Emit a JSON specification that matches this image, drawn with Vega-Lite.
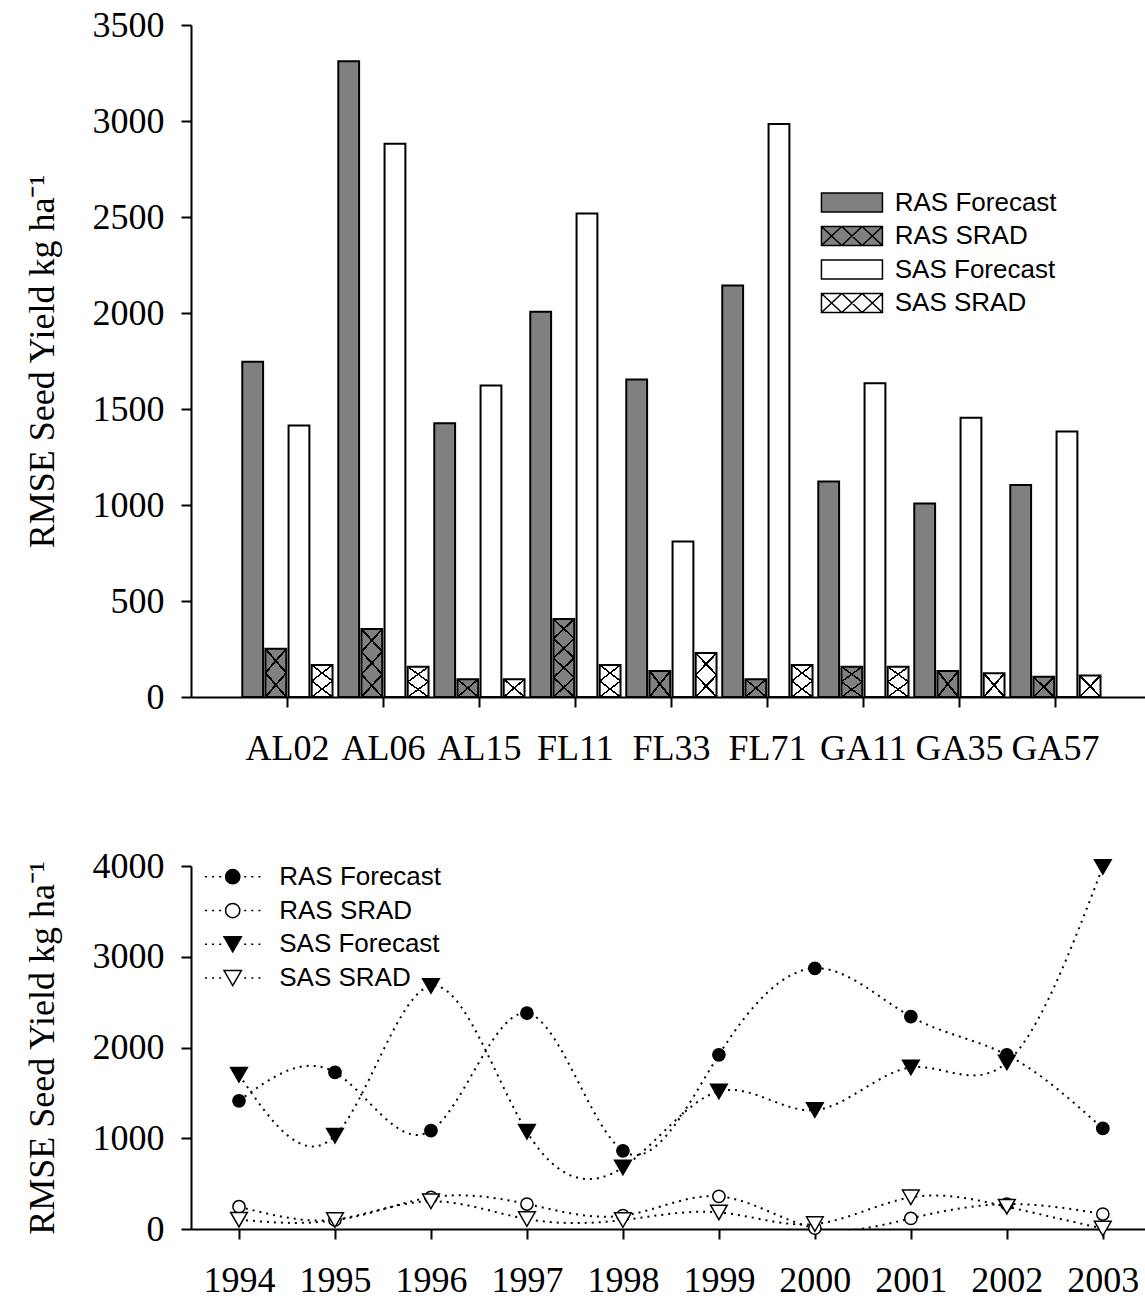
{
  "$schema": "https://vega.github.io/schema/vega-lite/v6.json",
  "padding": {"left": 24, "top": 7, "right": 0, "bottom": 0},
  "bounds": "flush",
  "spacing": 169,
  "resolve": {"scale": {"fill": "independent"}, "legend": {"fill": "independent"}},
  "config": {
    "view": {"stroke": null},
    "axis": {
      "domainColor": "black", "domainWidth": 2, "tickColor": "black", "tickWidth": 2, "tickSize": 10,
      "labelFont": "Liberation Serif", "labelFontSize": 36, "labelColor": "black",
      "titleFont": "Liberation Serif", "titleFontSize": 36, "titleFontWeight": "normal", "titleColor": "black",
      "grid": false, "labelPadding": 17, "titlePadding": 31, "labelOverlap": false, "labelFlush": false, "labelBound": false
    },
    "legend": {"labelFont": "Liberation Sans", "labelFontSize": 26, "labelColor": "black", "labelLimit": 400, "padding": 0, "symbolStrokeColor": "black", "symbolStrokeWidth": 1.5}
  },
  "vconcat": [
    {
      "width": 955,
      "height": 672,
      "data": {"values": [
        {"site": "AL02", "series": "RAS Forecast", "v": 1746}, {"site": "AL02", "series": "RAS SRAD", "v": 251}, {"site": "AL02", "series": "SAS Forecast", "v": 1414}, {"site": "AL02", "series": "SAS SRAD", "v": 167},
        {"site": "AL06", "series": "RAS Forecast", "v": 3311}, {"site": "AL06", "series": "RAS SRAD", "v": 354}, {"site": "AL06", "series": "SAS Forecast", "v": 2881}, {"site": "AL06", "series": "SAS SRAD", "v": 158},
        {"site": "AL15", "series": "RAS Forecast", "v": 1426}, {"site": "AL15", "series": "RAS SRAD", "v": 93}, {"site": "AL15", "series": "SAS Forecast", "v": 1622}, {"site": "AL15", "series": "SAS SRAD", "v": 93},
        {"site": "FL11", "series": "RAS Forecast", "v": 2007}, {"site": "FL11", "series": "RAS SRAD", "v": 406}, {"site": "FL11", "series": "SAS Forecast", "v": 2518}, {"site": "FL11", "series": "SAS SRAD", "v": 167},
        {"site": "FL33", "series": "RAS Forecast", "v": 1653}, {"site": "FL33", "series": "RAS SRAD", "v": 136}, {"site": "FL33", "series": "SAS Forecast", "v": 810}, {"site": "FL33", "series": "SAS SRAD", "v": 229},
        {"site": "FL71", "series": "RAS Forecast", "v": 2143}, {"site": "FL71", "series": "RAS SRAD", "v": 93}, {"site": "FL71", "series": "SAS Forecast", "v": 2984}, {"site": "FL71", "series": "SAS SRAD", "v": 167},
        {"site": "GA11", "series": "RAS Forecast", "v": 1123}, {"site": "GA11", "series": "RAS SRAD", "v": 158}, {"site": "GA11", "series": "SAS Forecast", "v": 1634}, {"site": "GA11", "series": "SAS SRAD", "v": 158},
        {"site": "GA35", "series": "RAS Forecast", "v": 1008}, {"site": "GA35", "series": "RAS SRAD", "v": 136}, {"site": "GA35", "series": "SAS Forecast", "v": 1455}, {"site": "GA35", "series": "SAS SRAD", "v": 124},
        {"site": "GA57", "series": "RAS Forecast", "v": 1104}, {"site": "GA57", "series": "RAS SRAD", "v": 105}, {"site": "GA57", "series": "SAS Forecast", "v": 1383}, {"site": "GA57", "series": "SAS SRAD", "v": 112}
      ]},
      "encoding": {
        "x": {"field": "site", "type": "nominal", "sort": ["AL02", "AL06", "AL15", "FL11", "FL33", "FL71", "GA11", "GA35", "GA57"],
              "scale": {"paddingInner": 0.06, "paddingOuter": 0.504, "align": 0.53},
              "axis": {"title": null, "labelAngle": 0, "labelPadding": 24}},
        "xOffset": {"field": "series", "type": "nominal", "scale": {"domain": ["RAS Forecast", "RAS SRAD", "SAS Forecast", "SAS SRAD"], "paddingInner": 0.1}},
        "y": {"field": "v", "type": "quantitative", "scale": {"domain": [0, 3500], "nice": false},
              "axis": {"title": "RMSE Seed Yield kg ha⁻¹", "format": "d", "values": [0, 500, 1000, 1500, 2000, 2500, 3000, 3500]}}
      },
      "layer": [
        {
          "mark": {"type": "bar", "stroke": "black", "strokeWidth": 2},
          "encoding": {
            "fill": {"field": "series", "type": "nominal",
              "scale": {"domain": ["RAS Forecast", "RAS SRAD", "SAS Forecast", "SAS SRAD"], "range": ["#808080", "#808080", "#ffffff", "#ffffff"]},
              "legend": {"title": null, "orient": "none", "legendX": 630.7, "legendY": 164.5, "symbolSize": 361, "symbolOffset": 17.25, "labelOffset": 29.8, "rowPadding": 7.5,
                "encode": {"symbols": {"update": {"shape": {"signal": "indexof(datum.value,'SRAD')>=0 ? 'M-3.21,-1H3.21V1H-3.21Z M-3.21,-1L-1.07,1M-1.07,-1L-3.21,1M-1.07,-1L1.07,1M1.07,-1L-1.07,1M1.07,-1L3.21,1M3.21,-1L1.07,1' : 'M-3.21,-1H3.21V1H-3.21Z'"}}}}}}
          }
        },
        {
          "transform": [{"filter": "indexof(datum.series,'SRAD')>=0"}],
          "mark": {"type": "bar", "strokeWidth": 0},
          "encoding": {
            "fill": {
              "condition": [
                {"test": "datum.v < 156", "value": {"gradient": "linear", "x1": 0, "y1": 0, "x2": 1, "y2": 1, "stops": [{"offset": 0, "color": "rgba(0,0,0,0)"}, {"offset": 0.47, "color": "rgba(0,0,0,0)"}, {"offset": 0.47, "color": "black"}, {"offset": 0.53, "color": "black"}, {"offset": 0.53, "color": "rgba(0,0,0,0)"}, {"offset": 1, "color": "rgba(0,0,0,0)"}]}},
                {"test": "datum.v < 260", "value": {"gradient": "linear", "x1": 0, "y1": 0, "x2": 0.6, "y2": 1.2, "stops": [{"offset": 0, "color": "rgba(0,0,0,0)"}, {"offset": 0.3133, "color": "rgba(0,0,0,0)"}, {"offset": 0.3133, "color": "black"}, {"offset": 0.3533, "color": "black"}, {"offset": 0.3533, "color": "rgba(0,0,0,0)"}, {"offset": 0.6467, "color": "rgba(0,0,0,0)"}, {"offset": 0.6467, "color": "black"}, {"offset": 0.6867, "color": "black"}, {"offset": 0.6867, "color": "rgba(0,0,0,0)"}, {"offset": 1, "color": "rgba(0,0,0,0)"}]}},
                {"test": "datum.v < 365", "value": {"gradient": "linear", "x1": 0, "y1": 0, "x2": 0.4, "y2": 1.2, "stops": [{"offset": 0, "color": "rgba(0,0,0,0)"}, {"offset": 0.235, "color": "rgba(0,0,0,0)"}, {"offset": 0.235, "color": "black"}, {"offset": 0.265, "color": "black"}, {"offset": 0.265, "color": "rgba(0,0,0,0)"}, {"offset": 0.485, "color": "rgba(0,0,0,0)"}, {"offset": 0.485, "color": "black"}, {"offset": 0.515, "color": "black"}, {"offset": 0.515, "color": "rgba(0,0,0,0)"}, {"offset": 0.735, "color": "rgba(0,0,0,0)"}, {"offset": 0.735, "color": "black"}, {"offset": 0.765, "color": "black"}, {"offset": 0.765, "color": "rgba(0,0,0,0)"}, {"offset": 1, "color": "rgba(0,0,0,0)"}]}}
              ],
              "value": {"gradient": "linear", "x1": 0, "y1": 0, "x2": 0.2941, "y2": 1.1765, "stops": [{"offset": 0, "color": "rgba(0,0,0,0)"}, {"offset": 0.188, "color": "rgba(0,0,0,0)"}, {"offset": 0.188, "color": "black"}, {"offset": 0.212, "color": "black"}, {"offset": 0.212, "color": "rgba(0,0,0,0)"}, {"offset": 0.388, "color": "rgba(0,0,0,0)"}, {"offset": 0.388, "color": "black"}, {"offset": 0.412, "color": "black"}, {"offset": 0.412, "color": "rgba(0,0,0,0)"}, {"offset": 0.588, "color": "rgba(0,0,0,0)"}, {"offset": 0.588, "color": "black"}, {"offset": 0.612, "color": "black"}, {"offset": 0.612, "color": "rgba(0,0,0,0)"}, {"offset": 0.788, "color": "rgba(0,0,0,0)"}, {"offset": 0.788, "color": "black"}, {"offset": 0.812, "color": "black"}, {"offset": 0.812, "color": "rgba(0,0,0,0)"}, {"offset": 1, "color": "rgba(0,0,0,0)"}]}
            }
          }
        },
        {
          "transform": [{"filter": "indexof(datum.series,'SRAD')>=0"}],
          "mark": {"type": "bar", "strokeWidth": 0},
          "encoding": {
            "fill": {
              "condition": [
                {"test": "datum.v < 156", "value": {"gradient": "linear", "x1": 0, "y1": 1, "x2": 1, "y2": 0, "stops": [{"offset": 0, "color": "rgba(0,0,0,0)"}, {"offset": 0.47, "color": "rgba(0,0,0,0)"}, {"offset": 0.47, "color": "black"}, {"offset": 0.53, "color": "black"}, {"offset": 0.53, "color": "rgba(0,0,0,0)"}, {"offset": 1, "color": "rgba(0,0,0,0)"}]}},
                {"test": "datum.v < 260", "value": {"gradient": "linear", "x1": 0, "y1": 1, "x2": 0.6, "y2": -0.2, "stops": [{"offset": 0, "color": "rgba(0,0,0,0)"}, {"offset": 0.3133, "color": "rgba(0,0,0,0)"}, {"offset": 0.3133, "color": "black"}, {"offset": 0.3533, "color": "black"}, {"offset": 0.3533, "color": "rgba(0,0,0,0)"}, {"offset": 0.6467, "color": "rgba(0,0,0,0)"}, {"offset": 0.6467, "color": "black"}, {"offset": 0.6867, "color": "black"}, {"offset": 0.6867, "color": "rgba(0,0,0,0)"}, {"offset": 1, "color": "rgba(0,0,0,0)"}]}},
                {"test": "datum.v < 365", "value": {"gradient": "linear", "x1": 0, "y1": 1, "x2": 0.4, "y2": -0.2, "stops": [{"offset": 0, "color": "rgba(0,0,0,0)"}, {"offset": 0.235, "color": "rgba(0,0,0,0)"}, {"offset": 0.235, "color": "black"}, {"offset": 0.265, "color": "black"}, {"offset": 0.265, "color": "rgba(0,0,0,0)"}, {"offset": 0.485, "color": "rgba(0,0,0,0)"}, {"offset": 0.485, "color": "black"}, {"offset": 0.515, "color": "black"}, {"offset": 0.515, "color": "rgba(0,0,0,0)"}, {"offset": 0.735, "color": "rgba(0,0,0,0)"}, {"offset": 0.735, "color": "black"}, {"offset": 0.765, "color": "black"}, {"offset": 0.765, "color": "rgba(0,0,0,0)"}, {"offset": 1, "color": "rgba(0,0,0,0)"}]}}
              ],
              "value": {"gradient": "linear", "x1": 0, "y1": 1, "x2": 0.2941, "y2": -0.1765, "stops": [{"offset": 0, "color": "rgba(0,0,0,0)"}, {"offset": 0.188, "color": "rgba(0,0,0,0)"}, {"offset": 0.188, "color": "black"}, {"offset": 0.212, "color": "black"}, {"offset": 0.212, "color": "rgba(0,0,0,0)"}, {"offset": 0.388, "color": "rgba(0,0,0,0)"}, {"offset": 0.388, "color": "black"}, {"offset": 0.412, "color": "black"}, {"offset": 0.412, "color": "rgba(0,0,0,0)"}, {"offset": 0.588, "color": "rgba(0,0,0,0)"}, {"offset": 0.588, "color": "black"}, {"offset": 0.612, "color": "black"}, {"offset": 0.612, "color": "rgba(0,0,0,0)"}, {"offset": 0.788, "color": "rgba(0,0,0,0)"}, {"offset": 0.788, "color": "black"}, {"offset": 0.812, "color": "black"}, {"offset": 0.812, "color": "rgba(0,0,0,0)"}, {"offset": 1, "color": "rgba(0,0,0,0)"}]}
            }
          }
        }
      ]
    },
    {
      "width": 955,
      "height": 363,
      "data": {"values": [
        {"year": 1994, "series": "RAS Forecast", "v": 1413}, {"year": 1995, "series": "RAS Forecast", "v": 1725}, {"year": 1996, "series": "RAS Forecast", "v": 1083}, {"year": 1997, "series": "RAS Forecast", "v": 2378}, {"year": 1998, "series": "RAS Forecast", "v": 862},
        {"year": 1999, "series": "RAS Forecast", "v": 1919}, {"year": 2000, "series": "RAS Forecast", "v": 2873}, {"year": 2001, "series": "RAS Forecast", "v": 2341}, {"year": 2002, "series": "RAS Forecast", "v": 1919}, {"year": 2003, "series": "RAS Forecast", "v": 1108},
        {"year": 1994, "series": "RAS SRAD", "v": 246}, {"year": 1995, "series": "RAS SRAD", "v": 100}, {"year": 1996, "series": "RAS SRAD", "v": 349}, {"year": 1997, "series": "RAS SRAD", "v": 275}, {"year": 1998, "series": "RAS SRAD", "v": 147},
        {"year": 1999, "series": "RAS SRAD", "v": 360}, {"year": 2000, "series": "RAS SRAD", "v": 10}, {"year": 2001, "series": "RAS SRAD", "v": 117}, {"year": 2002, "series": "RAS SRAD", "v": 275}, {"year": 2003, "series": "RAS SRAD", "v": 165},
        {"year": 1994, "series": "SAS Forecast", "v": 1699}, {"year": 1995, "series": "SAS Forecast", "v": 1028}, {"year": 1996, "series": "SAS Forecast", "v": 2679}, {"year": 1997, "series": "SAS Forecast", "v": 1072}, {"year": 1998, "series": "SAS Forecast", "v": 679},
        {"year": 1999, "series": "SAS Forecast", "v": 1516}, {"year": 2000, "series": "SAS Forecast", "v": 1310}, {"year": 2001, "series": "SAS Forecast", "v": 1780}, {"year": 2002, "series": "SAS Forecast", "v": 1835}, {"year": 2003, "series": "SAS Forecast", "v": 3990},
        {"year": 1994, "series": "SAS SRAD", "v": 103}, {"year": 1995, "series": "SAS SRAD", "v": 99}, {"year": 1996, "series": "SAS SRAD", "v": 305}, {"year": 1997, "series": "SAS SRAD", "v": 110}, {"year": 1998, "series": "SAS SRAD", "v": 99},
        {"year": 1999, "series": "SAS SRAD", "v": 183}, {"year": 2000, "series": "SAS SRAD", "v": 55}, {"year": 2001, "series": "SAS SRAD", "v": 349}, {"year": 2002, "series": "SAS SRAD", "v": 246}, {"year": 2003, "series": "SAS SRAD", "v": 5}
      ]},
      "encoding": {
        "x": {"field": "year", "type": "quantitative", "scale": {"domain": [1993.5, 2003.45], "nice": false, "zero": false, "padding": 0},
              "axis": {"title": null, "values": [1994, 1995, 1996, 1997, 1998, 1999, 2000, 2001, 2002, 2003], "format": "d", "labelPadding": 24}},
        "y": {"field": "v", "type": "quantitative", "scale": {"domain": [0, 4000], "nice": false, "padding": 0},
              "axis": {"title": "RMSE Seed Yield kg ha⁻¹", "format": "d", "values": [0, 1000, 2000, 3000, 4000]}}
      },
      "layer": [
        {
          "mark": {"type": "line", "interpolate": "natural", "stroke": "black", "strokeWidth": 2, "strokeDash": [2, 5], "clip": true},
          "encoding": {"detail": {"field": "series", "type": "nominal"}}
        },
        {
          "transform": [{"filter": "false"}],
          "mark": {"type": "bar"},
          "encoding": {
            "fill": {"field": "series", "type": "nominal",
              "scale": {"domain": ["RAS Forecast", "RAS SRAD", "SAS Forecast", "SAS SRAD"], "range": ["black", "white", "black", "white"]},
              "legend": {"title": null, "orient": "none", "legendX": 11.7, "legendY": -2.3, "symbolSize": 225, "symbolOffset": 17, "labelOffset": 33.5, "rowPadding": 7.8,
                "encode": {"symbols": {"update": {"shape": {"signal": "indexof(datum.value,'RAS')===0 ? 'M-3.7,0h0.27M-2.75,0h0.27M-1.8,0h0.27M1.53,0h0.27M2.48,0h0.27M3.43,0h0.27M-0.95,0A0.95,0.95,0,1,1,0.95,0A0.95,0.95,0,1,1,-0.95,0Z' : 'M-3.7,0h0.27M-2.75,0h0.27M-1.8,0h0.27M1.53,0h0.27M2.48,0h0.27M3.43,0h0.27M0,1L1.155,-1L-1.155,-1Z'"}}}}}}
          }
        },
        {
          "transform": [{"filter": "indexof(datum.series,'RAS')===0"}],
          "mark": {"type": "point", "shape": "circle", "size": 150, "stroke": "black", "strokeWidth": 1.5, "opacity": 1},
          "encoding": {
            "fill": {"condition": {"test": "indexof(datum.series,'Forecast')>=0", "value": "black"}, "value": "white"}
          }
        },
        {
          "transform": [{"filter": "indexof(datum.series,'SAS')===0"}],
          "mark": {"type": "point", "shape": "triangle-down", "size": 280, "stroke": "black", "strokeWidth": 1.5, "opacity": 1},
          "encoding": {
            "fill": {"condition": {"test": "indexof(datum.series,'Forecast')>=0", "value": "black"}, "value": "white"}
          }
        }
      ]
    }
  ]
}
